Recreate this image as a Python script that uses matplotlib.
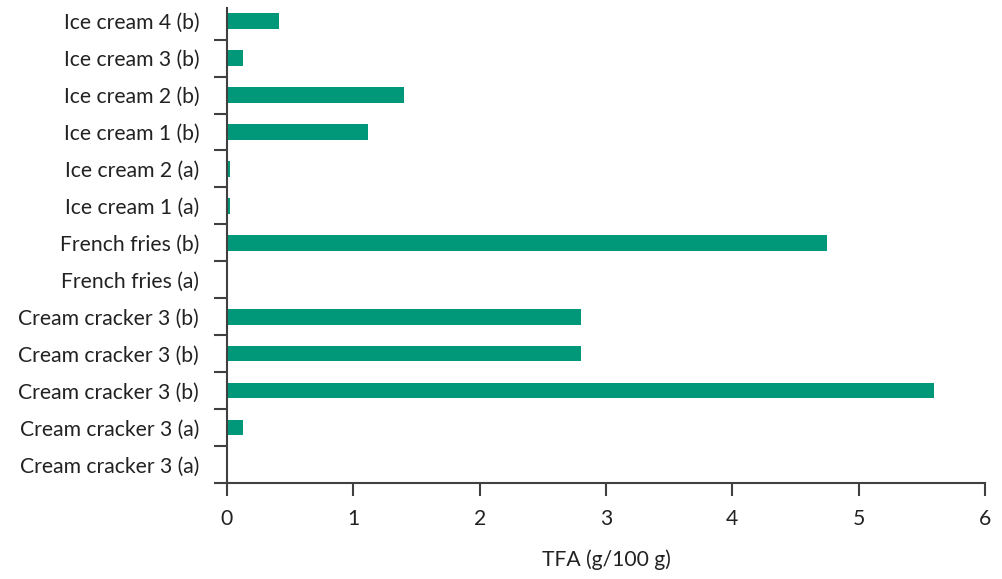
import numpy as np
import matplotlib.pyplot as plt

# data, bottom to top
labels = ["Cream cracker 3 (a)", "Cream cracker 3 (a)", "Cream cracker 3 (b)",
          "Cream cracker 3 (b)", "Cream cracker 3 (b)", "French fries (a)",
          "French fries (b)", "Ice cream 1 (a)", "Ice cream 2 (a)",
          "Ice cream 1 (b)", "Ice cream 2 (b)", "Ice cream 3 (b)", "Ice cream 4 (b)"]
tfa = [0.0, 0.13, 5.60, 2.80, 2.80, 0.0, 4.75, 0.02, 0.02, 1.12, 1.40, 0.13, 0.41]
xticks = [0, 1, 2, 3, 4, 5, 6]

plt.rcParams['font.family'] = ['Lato', 'DejaVu Sans']

fig = plt.figure(figsize=(10.03, 5.79), dpi=100)
ax = fig.add_axes([0.2263, 0.1658, 0.982 - 0.2263, 0.9862 - 0.1658])

y = np.arange(len(labels))
ax.barh(y, tfa, height=0.42, color="#009878")

ax.set_xlim(0, 6)
ax.set_ylim(-0.5, 12.357)

# category labels without ticks, ticks at boundaries
ax.set_yticks(y)
ax.set_yticklabels(labels, fontsize=15.2, color="#222222")
ax.tick_params(axis="y", which="major", length=0, pad=20)
ax.set_yticks(np.arange(-0.5, 12.0, 1.0), minor=True)
ax.tick_params(axis="y", which="minor", length=9.5, width=1.5, color="#404040")

ax.set_xticks(xticks)
ax.set_xticklabels([str(t) for t in xticks], fontsize=15.2, color="#222222")
ax.tick_params(axis="x", length=9.5, width=1.5, color="#404040", pad=9)
ax.set_xlabel("TFA (g/100 g)", fontsize=15.2, color="#222222", labelpad=15)

for s in ["top", "right"]:
    ax.spines[s].set_visible(False)
for s in ["left", "bottom"]:
    ax.spines[s].set_linewidth(1.5)
    ax.spines[s].set_color("#404040")

fig.savefig("out.png", dpi=100)
